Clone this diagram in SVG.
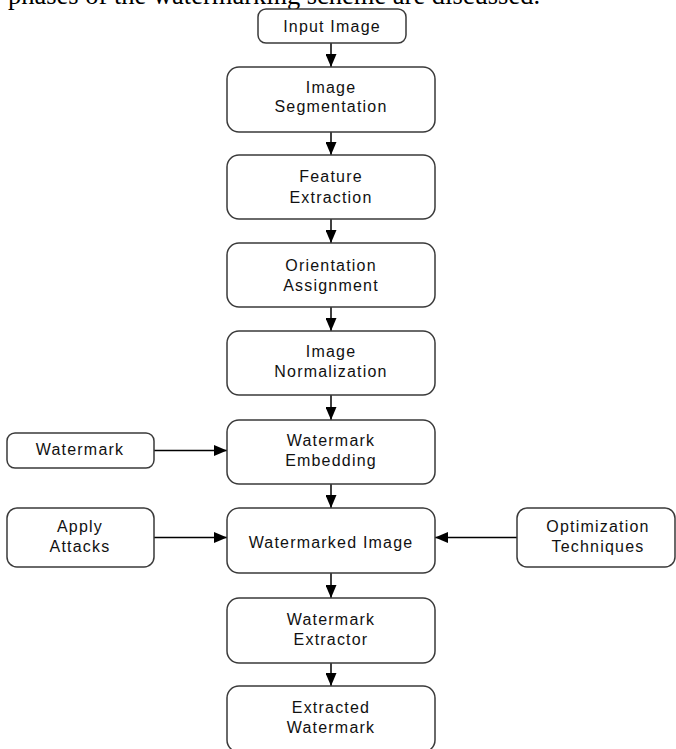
<svg xmlns="http://www.w3.org/2000/svg" width="676" height="749" viewBox="0 0 676 749">
<style>
.box{fill:#fff;stroke:#3a3a3a;stroke-width:1.5}
.lbl{font-family:"Liberation Sans",Arial,sans-serif;font-size:16px;fill:#111;text-anchor:middle;letter-spacing:1.2px}
.con{stroke:#000;stroke-width:1.5;fill:none;marker-end:url(#ah)}
.head{font-family:"Liberation Serif","Times New Roman",serif;font-size:26.5px;fill:#000}
</style>
<defs>
<marker id="ah" markerUnits="userSpaceOnUse" markerWidth="14" markerHeight="11" refX="13" refY="5.5" orient="auto">
<path d="M0,0 L13,5.5 L0,11 Z" fill="#000"/>
</marker>
</defs>
<rect width="676" height="749" fill="#fff"/>
<text class="head" x="8" y="4">phases of the watermarking scheme are discussed.</text>
<g id="connectors">
<line class="con" x1="331" y1="43" x2="331" y2="67"/>
<line class="con" x1="331" y1="132" x2="331" y2="155"/>
<line class="con" x1="331" y1="219" x2="331" y2="243"/>
<line class="con" x1="331" y1="307" x2="331" y2="331"/>
<line class="con" x1="331" y1="395" x2="331" y2="420"/>
<line class="con" x1="331" y1="484" x2="331" y2="508"/>
<line class="con" x1="331" y1="573" x2="331" y2="598"/>
<line class="con" x1="331" y1="663" x2="331" y2="686"/>
<line class="con" x1="154" y1="450.5" x2="227" y2="450.5"/>
<line class="con" x1="154" y1="537.5" x2="227" y2="537.5"/>
<line class="con" x1="517" y1="537.5" x2="435" y2="537.5"/>
</g>
<g id="input">
<rect class="box" x="258" y="9" width="148" height="34" rx="8"/>
<text class="lbl" x="332" y="31.5">Input Image</text>
</g>
<g id="segmentation">
<rect class="box" x="227" y="67" width="208" height="65" rx="12"/>
<text class="lbl" x="331" y="93">Image</text>
<text class="lbl" x="331" y="112">Segmentation</text>
</g>
<g id="feature">
<rect class="box" x="227" y="155" width="208" height="64" rx="12"/>
<text class="lbl" x="331" y="182">Feature</text>
<text class="lbl" x="331" y="203">Extraction</text>
</g>
<g id="orientation">
<rect class="box" x="227" y="243" width="208" height="64" rx="12"/>
<text class="lbl" x="331" y="270.5">Orientation</text>
<text class="lbl" x="331" y="291">Assignment</text>
</g>
<g id="normalization">
<rect class="box" x="227" y="331" width="208" height="64" rx="12"/>
<text class="lbl" x="331" y="357">Image</text>
<text class="lbl" x="331" y="377">Normalization</text>
</g>
<g id="embedding">
<rect class="box" x="227" y="420" width="208" height="64" rx="12"/>
<text class="lbl" x="331" y="446">Watermark</text>
<text class="lbl" x="331" y="466">Embedding</text>
</g>
<g id="watermarked">
<rect class="box" x="227" y="508" width="208" height="65" rx="12"/>
<text class="lbl" x="331" y="548">Watermarked Image</text>
</g>
<g id="extractor">
<rect class="box" x="227" y="598" width="208" height="65" rx="12"/>
<text class="lbl" x="331" y="625">Watermark</text>
<text class="lbl" x="331" y="645">Extractor</text>
</g>
<g id="extracted">
<rect class="box" x="227" y="686" width="208" height="66" rx="12"/>
<text class="lbl" x="331" y="713">Extracted</text>
<text class="lbl" x="331" y="733">Watermark</text>
</g>
<g id="watermark">
<rect class="box" x="7" y="433" width="147" height="35" rx="8"/>
<text class="lbl" x="80" y="455">Watermark</text>
</g>
<g id="attacks">
<rect class="box" x="7" y="508" width="147" height="59" rx="10"/>
<text class="lbl" x="80" y="531.5">Apply</text>
<text class="lbl" x="80" y="551.5">Attacks</text>
</g>
<g id="optimization">
<rect class="box" x="517" y="508" width="158" height="59" rx="10"/>
<text class="lbl" x="598" y="531.5">Optimization</text>
<text class="lbl" x="598" y="551.5">Techniques</text>
</g>
</svg>
